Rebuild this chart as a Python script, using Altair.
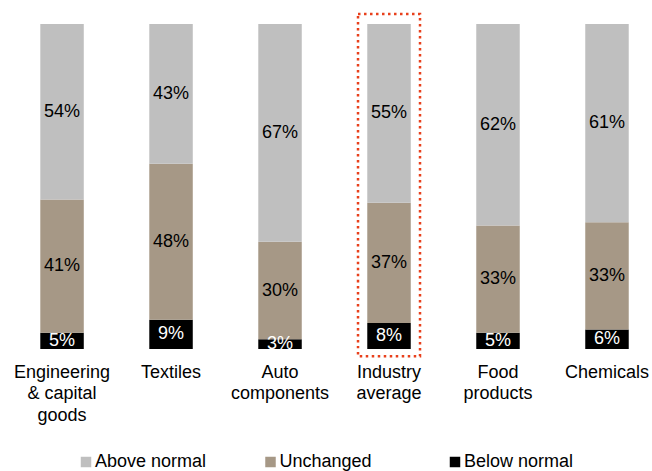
import altair as alt
import pandas as pd

categories = ["Engineering\n& capital\ngoods", "Textiles", "Auto\ncomponents",
              "Industry\naverage", "Food\nproducts", "Chemicals"]
above_normal = [54, 43, 67, 55, 62, 61]
unchanged = [41, 48, 30, 37, 33, 33]
below_normal = [5, 9, 3, 8, 5, 6]
series = ["Above normal", "Unchanged", "Below normal"]
colors = ["#BFBFBF", "#A69886", "#000000"]
highlight = "Industry\naverage"

rows = []
for i, c in enumerate(categories):
    vals = {"Below normal": below_normal[i], "Unchanged": unchanged[i], "Above normal": above_normal[i]}
    base = 0
    for k, s in enumerate(["Below normal", "Unchanged", "Above normal"]):
        v = vals[s]
        rows.append({"cat": c, "series": s, "ord": k, "y0": base, "y1": base + v,
                     "mid": base + v / 2, "label": f"{v}%"})
        base += v
df = pd.DataFrame(rows)
hl = pd.DataFrame({"cat": [highlight], "lo": [-2.2], "hi": [103.1]})

FONT = "Liberation Sans"
xscale = alt.Scale(domain=categories, paddingInner=0.601, paddingOuter=0.2365, align=0.7816)
yscale = alt.Scale(domain=[0, 100], nice=False)

x = alt.X("cat:N", scale=xscale, sort=categories, title=None,
          axis=alt.Axis(labelAngle=0, domain=False, ticks=False, labelFont=FONT,
                        labelFontSize=18, labelColor="#000000", labelPadding=14,
                        labelLineHeight=21.5, labelBaseline="top", labelLimit=200,
                        labelExpr="split(datum.label, '\\n')"))

bars = alt.Chart(df).mark_bar().encode(
    x=x,
    y=alt.Y("y0:Q", scale=yscale, axis=None),
    y2="y1:Q",
    color=alt.Color("series:N", scale=alt.Scale(domain=series, range=colors),
                    legend=alt.Legend(title=None, orient="none", direction="horizontal",
                                      legendX=77, legendY=429, columns=3, gridAlign="all",
                                      columnPadding=54.5, symbolType="square", symbolSize=110,
                                      symbolStrokeWidth=0, labelFont=FONT, labelFontSize=18,
                                      labelColor="#000000", labelOffset=0, labelLimit=200)),
)

texts = alt.Chart(df).mark_text(font=FONT, fontSize=18, baseline="middle", clip=True).encode(
    x=alt.X("cat:N", scale=xscale, sort=categories),
    y=alt.Y("mid:Q", scale=yscale),
    text="label:N",
    color=alt.condition(alt.datum.series == "Below normal", alt.value("#FFFFFF"), alt.value("#000000")),
)

box = alt.Chart(hl).mark_bar(width=62, fillOpacity=0, stroke="#E8401C", strokeWidth=2.5,
                             strokeDash=[2.5, 3.5]).encode(
    x=alt.X("cat:N", scale=xscale, sort=categories),
    y=alt.Y("lo:Q", scale=yscale),
    y2="hi:Q",
)

chart = alt.layer(bars, texts, box).properties(
    width=640, height=325,
    autosize=alt.AutoSizeParams(type="none"),
    padding={"left": 0, "top": 24, "right": 12, "bottom": 122},
    background="white",
).configure_view(stroke=None)

chart.save("out.html", embed_options={"renderer": "svg", "actions": False})
